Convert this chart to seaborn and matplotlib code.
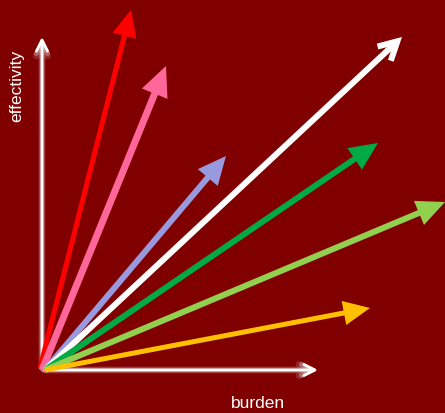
import matplotlib
matplotlib.use("Agg")
import matplotlib.pyplot as plt
import seaborn as sns

# vectors: start and tip in chart units (burden, effectivity), origin at (0, 0)
names = ["red", "pink", "lavender", "white", "green", "lightgreen", "orange"]
x0 = [-2, 0, 3, 3, 3, 3, 3]
y0 = [2, 0, 0, 0, 0, 0, 0]
x1 = [89, 124, 184, 360, 336, 403, 328]
y1 = [360, 304, 214, 333, 227, 168, 62]
colors = ["#ff0000", "#ff6699", "#9999dd", "#ffffff", "#00aa44", "#92d050", "#ffc000"]
widths = [5, 7, 6, 6, 6, 6, 5]

# axis arrows
axis_len_x = 276
axis_len_y = 333

sns.set_theme(style="white")
plt.rcParams["font.family"] = ["Liberation Sans", "DejaVu Sans"]

fig = plt.figure(figsize=(4.45, 4.13), dpi=100)
fig.patch.set_facecolor("#800000")
ax = fig.add_axes([0, 0, 1, 1])
ax.set_facecolor("#800000")
ax.set_xlim(-42, 403)
ax.set_ylim(-43, 370)
ax.axis("off")

# glowing white axes
for lw, a in [(5, 0.15), (3.5, 0.3), (2, 1.0)]:
    ax.annotate("", xy=(axis_len_x, 0), xytext=(2, 0),
                arrowprops=dict(arrowstyle="->,head_length=8,head_width=4", mutation_scale=1,
                                color="white", lw=lw, alpha=a, shrinkA=0, shrinkB=0))
    ax.annotate("", xy=(0, axis_len_y), xytext=(0, 2),
                arrowprops=dict(arrowstyle="->,head_length=8,head_width=4", mutation_scale=1,
                                color="white", lw=lw, alpha=a, shrinkA=0, shrinkB=0))

for i, n in enumerate(names):
    lw = widths[i] * 0.72
    if n == "white":
        style = "->,head_length=13,head_width=7"
    else:
        style = "-|>,head_length=13,head_width=6"
    ax.annotate("", xy=(x1[i], y1[i]), xytext=(x0[i], y0[i]),
                arrowprops=dict(arrowstyle=style, mutation_scale=1, color=colors[i],
                                lw=lw, shrinkA=0, shrinkB=0, capstyle="butt",
                                joinstyle="miter"))

ax.text(216, -34, "burden", color="white", fontsize=12.5, ha="center", va="center")
ax.text(-25, 284, "effectivity", color="white", fontsize=12.5, ha="center", va="center",
        rotation=90)

fig.savefig("out.png", dpi=100, facecolor=fig.get_facecolor())
